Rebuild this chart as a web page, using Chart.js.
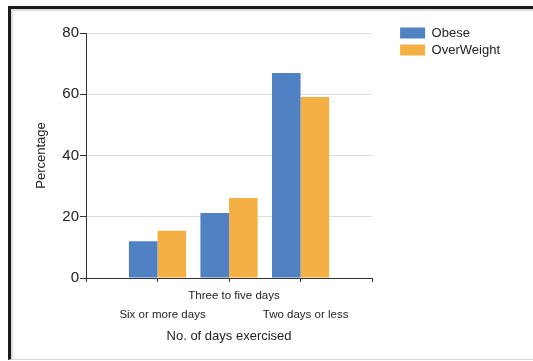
<!DOCTYPE html>
<html>
<head>
<meta charset="utf-8">
<script src="https://cdn.jsdelivr.net/npm/chart.js@4"></script>
<style>
  html, body { margin: 0; padding: 0; background: #fff; overflow: hidden; }
  #wrap { position: relative; width: 533px; height: 361px; }
  #frame {
    position: absolute; left: 8px; top: 6px; right: -10px; bottom: 1px;
    border-top: 3px solid #1b1b1b; border-left: 3px solid #1b1b1b;
    border-bottom: 1px solid #d4d4d4;
    box-shadow: inset 2px 2px 1px #dcdcdc;
    pointer-events: none;
  }
</style>
</head>
<body>
<div id="wrap">
  <canvas id="barChart" width="533" height="361"></canvas>
  <div id="frame"></div>
</div>
<script>
// categories along the x axis (empty slots at both ends, as in the original)
const categories = ['Six or more days', 'Three to five days', 'Two days or less']
const obese = [12.0, 21.2, 66.9]
const overWeight = [15.4, 26.1, 59.1]
const yTicks = [0, 20, 40, 60, 80]

// staggered labels: middle one on row 1, outer ones on row 2
const labels = [''].concat(
  categories.map((c, i) => (i % 2 === 0 ? ['', c] : c)),
  ['']
)
const pad = (arr) => [null].concat(arr, [null])

const font = "'Liberation Sans', Arial, sans-serif"
const textColor = '#222'
const axisColor = '#333'

const ctx = document.getElementById('barChart').getContext('2d')
new Chart(ctx, {
  type: 'bar',
  data: {
    labels,
    datasets: [
      {
        label: 'Obese',
        data: pad(obese),
        backgroundColor: '#4F81C3',
        borderWidth: 0,
      },
      {
        label: 'OverWeight',
        data: pad(overWeight),
        backgroundColor: '#F4B044',
        borderWidth: 0,
      },
    ],
  },
  options: {
    responsive: false,
    devicePixelRatio: 1,
    animation: false,
    datasets: { bar: { categoryPercentage: 0.8, barPercentage: 1.0 } },
    layout: { padding: { left: 30, right: 23, top: 22.5, bottom: 13 } },
    scales: {
      x: {
        offset: false,
        grid: {
          offset: false,
          drawOnChartArea: false,
          tickLength: 4,
          tickColor: axisColor,
        },
        border: { color: axisColor, width: 1 },
        ticks: {
          autoSkip: false,
          maxRotation: 0,
          minRotation: 0,
          padding: 4.5,
          labelOffset: 5,
          color: textColor,
          font: { family: font, size: 11.5, lineHeight: '19px' },
        },
        title: {
          display: true,
          text: 'No. of days exercised',
          color: textColor,
          font: { family: font, size: 13 },
        },
        afterFit: (s) => { s.height = 70 },
      },
      y: {
        min: yTicks[0],
        max: yTicks[yTicks.length - 1],
        afterBuildTicks: (s) => { s.ticks = yTicks.map((v) => ({ value: v })) },
        grid: {
          color: (c) => (c.tick && c.tick.value === 0 ? 'rgba(0,0,0,0)' : '#dedede'),
          tickColor: axisColor,
          tickLength: 6,
        },
        border: { color: axisColor, width: 1 },
        ticks: {
          padding: 1,
          color: textColor,
          font: { family: font, size: 15 },
        },
        title: {
          display: true,
          text: 'Percentage',
          color: textColor,
          font: { family: font, size: 13 },
        },
        afterFit: (s) => { s.width = 56 },
      },
      // empty spacer so the legend sits apart from the plot
      gap: {
        type: 'linear',
        position: 'right',
        grid: { display: false },
        border: { display: false },
        ticks: { display: false },
        afterFit: (s) => { s.width = 24 },
      },
    },
    plugins: {
      // blank title only pushes the plot below the legend's first row
      title: { display: true, text: '', padding: 0, font: { size: 1, lineHeight: '10.5px' } },
      tooltip: { enabled: false },
      legend: {
        position: 'right',
        align: 'start',
        maxWidth: 150,
        labels: {
          boxWidth: 25,
          boxHeight: 11,
          padding: 4,
          color: textColor,
          font: { family: font, size: 13 },
        },
      },
    },
  },
})
</script>
</body>
</html>
